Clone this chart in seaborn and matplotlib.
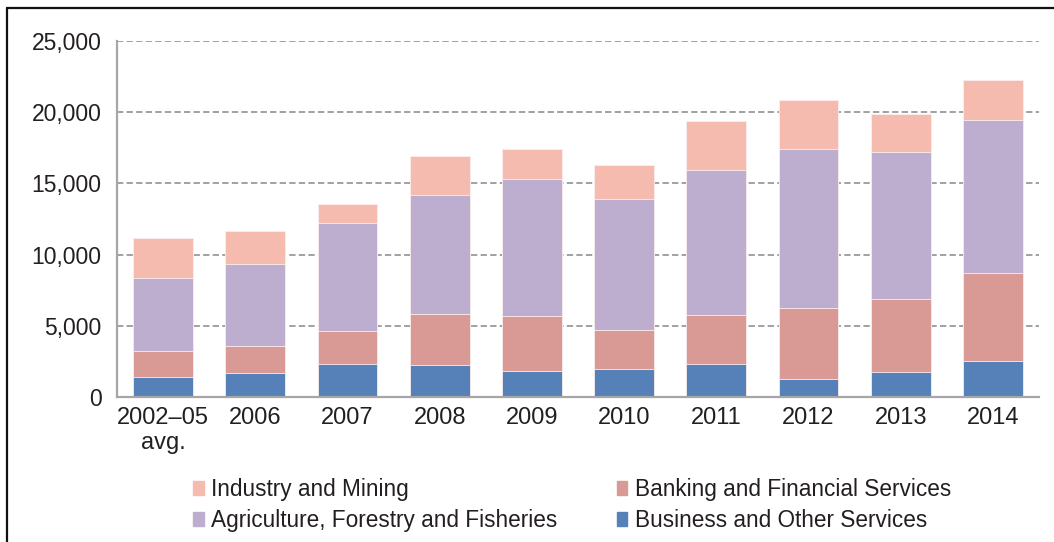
import numpy as np
import pandas as pd
import matplotlib
matplotlib.use("Agg")
import matplotlib.pyplot as plt
import seaborn as sns
from matplotlib.patches import Patch
from matplotlib.lines import Line2D

# ===== data =====
years = ["2002–05\navg.", "2006", "2007", "2008", "2009", "2010", "2011", "2012", "2013", "2014"]
business = [1400, 1690, 2290, 2220, 1830, 1970, 2320, 1240, 1780, 2500]
banking = [1830, 1890, 2320, 3630, 3880, 2760, 3440, 5030, 5080, 6210]
agriculture = [5130, 5740, 7610, 8310, 9580, 9200, 10160, 11120, 10350, 10740]
industry = [2780, 2310, 1360, 2790, 2150, 2340, 3490, 3490, 2660, 2810]

series_names = ["Business and Other Services", "Banking and Financial Services",
                "Agriculture, Forestry and Fisheries", "Industry and Mining"]
colors = {"Business and Other Services": "#5680b8",
          "Banking and Financial Services": "#d99a96",
          "Agriculture, Forestry and Fisheries": "#bdaecf",
          "Industry and Mining": "#f5bbae"}

df = pd.DataFrame({"year": years,
                   "Business and Other Services": business,
                   "Banking and Financial Services": banking,
                   "Agriculture, Forestry and Fisheries": agriculture,
                   "Industry and Mining": industry})

# cumulative tops, bottom segment first
cum = df[series_names].cumsum(axis=1)
cum["year"] = df["year"]

sns.set_style("white")
plt.rcParams["font.family"] = ["Liberation Sans", "DejaVu Sans"]
TXT = "#231f20"

fig = plt.figure(figsize=(10.54, 5.42), dpi=100)
ax = fig.add_axes([117 / 1054, 145 / 542, 922 / 1054, 356 / 542])

# draw tallest first so the lower segments sit on top
for name in reversed(series_names):
    sns.barplot(data=cum, x="year", y=name, order=years, color=colors[name],
                width=0.65, saturation=1, ax=ax, zorder=3,
                edgecolor="#fbeeee", linewidth=0.6)

ax.set_ylim(0, 25000)
ax.set_xlim(-0.5, len(years) - 0.5)
ax.set_yticks(np.arange(0, 25001, 5000))
ax.set_yticklabels([f"{v:,}" for v in range(0, 25001, 5000)])
ax.set_xlabel("")
ax.set_ylabel("")
ax.tick_params(axis="y", length=0, pad=11, labelsize=16.5, labelcolor=TXT)
ax.tick_params(axis="x", length=0, pad=7, labelsize=17, labelcolor=TXT)
for v in range(5000, 25001, 5000):
    ax.axhline(v, color="#9a9a9a", lw=1.3, ls=(0, (3.5, 1.8)), zorder=1)
for s in ["top", "right"]:
    ax.spines[s].set_visible(False)
for s in ["left", "bottom"]:
    ax.spines[s].set_color("#a6a6a6")
    ax.spines[s].set_linewidth(1.6)
    ax.spines[s].set_zorder(4)

# legend
labels = ["Industry and Mining", "Agriculture, Forestry and Fisheries",
          "Banking and Financial Services", "Business and Other Services"]
handles = [Patch(color=colors[n]) for n in labels]
fig.legend(handles, labels, ncol=2, loc="center left", bbox_to_anchor=(173 / 1054, 1 - 505 / 542),
           frameon=False, fontsize=16.3, handlelength=0.45, handleheight=0.55, handletextpad=0.35,
           columnspacing=2.6, labelspacing=0.33, labelcolor=TXT)

# outer frame (top and left edges)
fig.add_artist(Line2D([7 / 1054, 1], [1 - 8 / 542, 1 - 8 / 542], color="#111111", lw=1.6))
fig.add_artist(Line2D([7 / 1054, 7 / 1054], [0, 1 - 8 / 542], color="#111111", lw=1.6))

fig.savefig("out.png", dpi=100)
